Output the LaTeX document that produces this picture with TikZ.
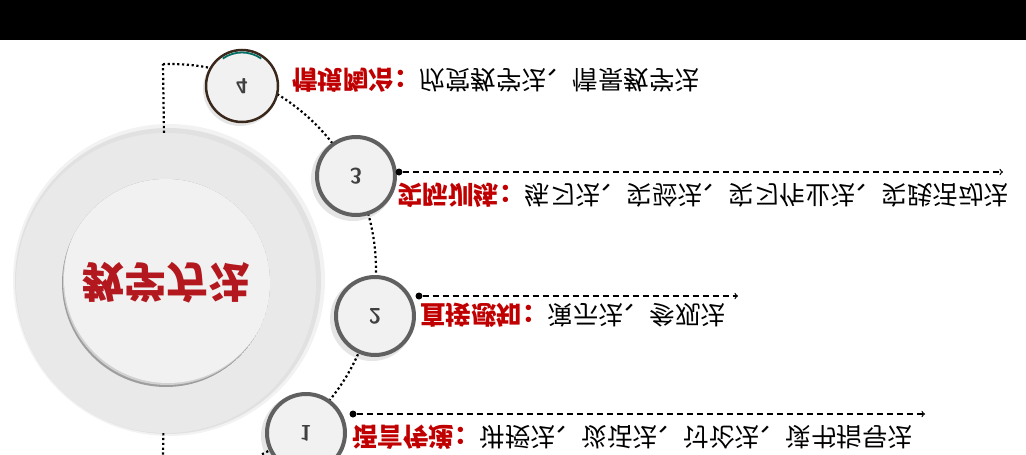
\documentclass[tikz,border=0pt]{standalone}
\usepackage{fontspec}
\usepackage{xcolor}
\usepackage{tikz}
\newfontfamily\cjk{Noto Sans CJK SC}
\definecolor{labelred}{RGB}{192,0,0}
\definecolor{hubred}{RGB}{178,24,30}
\definecolor{ringgray}{RGB}{233,233,233}
\definecolor{diskgray}{RGB}{241,241,241}
\definecolor{rimgray}{RGB}{96,96,96}
\definecolor{rimbrown}{RGB}{58,40,28}
\definecolor{rimteal}{RGB}{0,110,100}

\begin{document}
\begin{tikzpicture}[x=1pt, y=1pt, yscale=-1, transform shape,
    dotline/.style={line width=2.2pt, dash pattern=on 2.2pt off 2.6pt},
    numcirc/.style={circle, draw=rimgray, line width=4pt, fill=diskgray, minimum size=78pt, inner sep=0pt, font=\sffamily\bfseries\fontsize{22}{22}\selectfont, text=black!75},
    pin/.style={circle, fill=black, inner sep=0pt, minimum size=7pt},
    dasharrow/.style={->, line width=1.3pt, dash pattern=on 6pt off 4pt},
    itemtext/.style={anchor=west, inner sep=0pt, font=\cjk\fontsize{25.5}{30}\selectfont}]
    \useasboundingbox (0,0) rectangle (1026,455);

    % top bar
    \fill[black] (0,0) rectangle (1026,40);

    % dotted guide arc
    \draw[dotline] (170,270) ++(-92:206) arc[start angle=-92, end angle=64, radius=206];

    % hub
    \fill[black, opacity=0.05] (169,280) circle[radius=156];
    \fill[black, opacity=0.07] (168,281) circle[radius=153];
    \node[circle, fill=ringgray, minimum size=300pt, inner sep=0pt] (hub) at (166,283) {};
    \coordinate (top) at (163,64);
    \coordinate (bottom) at (163,455);
    \draw[dotline] (hub) -- (top);
    \draw[dotline] (hub) -- (bottom);
    \begin{scope}
        \clip (hub.center) circle[radius=104];
        \fill[black!38] (hub.center) circle[radius=104];
        \fill[black!18] ([xshift=1pt, yshift=-2pt]hub.center) circle[radius=104];
        \fill[diskgray] ([xshift=2pt, yshift=-4pt]hub.center) circle[radius=104];
    \end{scope}
    \node[font=\cjk\bfseries\fontsize{42}{42}\selectfont, text=hubred] (hublabel) at (hub) {教学方法};

    % steps
    \fill[black, opacity=0.10] (353,179) circle[radius=42];
    \fill[black, opacity=0.10] (372,319) circle[radius=42];
    \fill[black, opacity=0.10] (303,436) circle[radius=42];
    \fill[black, opacity=0.10] (240,89) circle[radius=37];
    \node[numcirc] (n3) at (356,176) {3};
    \node[numcirc] (n2) at (375,316) {2};
    \node[numcirc] (n1) at (306,433) {1};
    \node[numcirc, draw=rimbrown, line width=2.5pt, minimum size=72pt] (n4) at (242,86) {4};
    \draw[rimteal, line width=1.8pt] (n4.center) ++(-125:33.5) arc[start angle=-125, end angle=-55, radius=33.5];

    % arrows
    \node[pin] (p3) at (399,172) {};
    \node[pin] (p2) at (419,296) {};
    \node[pin] (p1) at (353,414) {};
    \coordinate (e3) at (1003,172);
    \coordinate (e2) at (738,296);
    \coordinate (e1) at (925,414);
    \draw[dasharrow] (p3) -- (e3);
    \draw[dasharrow] (p2) -- (e2);
    \draw[dasharrow] (p1) -- (e1);

    % labels
    \node[itemtext] (t4) at (292,80) {\textcolor{labelred}{\bfseries 情境陶冶：}欣赏教学法、情景教学法};
    \node[itemtext] (t3) at (397,195) {\textcolor{labelred}{\bfseries 实际训练：}练习法、实验法、实习作业法、实践活动法};
    \node[itemtext] (t2) at (420,315) {\textcolor{labelred}{\bfseries 直接感知：}演示法、参观法};
    \node[itemtext] (t1) at (352,437) {\textcolor{labelred}{\bfseries 语言传递：}讲授法、谈话法、讨论法、读书指导法};
\end{tikzpicture}
\end{document}
